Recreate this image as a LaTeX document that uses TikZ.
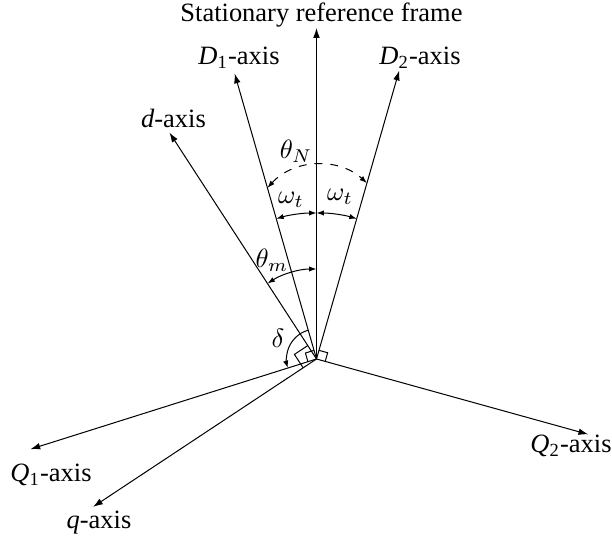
\documentclass[tikz,border=0pt]{standalone}
\usepackage{amsmath}
\usepackage{fontspec}
\setmainfont{Liberation Serif}
\usetikzlibrary{arrows.meta,calc}
\begin{document}
\begin{tikzpicture}[x=0.378pt,y=0.378pt,
  axisline/.style={-{Latex[length=3.7pt,width=2.5pt]}, line width=0.38pt},
  twoarrow/.style={{Latex[length=2.8pt,width=2pt]}-{Latex[length=2.8pt,width=2pt]}, line width=0.38pt},
  onearrow/.style={-{Latex[length=2.8pt,width=2pt]}, line width=0.38pt},
  rightmark/.style={line width=0.38pt},
  lbl/.style={inner sep=0pt, anchor=base},
  mlbl/.style={inner sep=0pt}]
\useasboundingbox (0,0) rectangle (612,537);
% origin and tips
\coordinate (O) at (316.5,178);
\coordinate (S) at (316.5,509);
\coordinate (D1) at ($(O)+(106:297)$);
\coordinate (D2) at ($(O)+(74:300)$);
\coordinate (d) at ($(O)+(123:270)$);
\coordinate (Q1) at ($(O)+(197.5:300)$);
\coordinate (Q2) at ($(O)+(-15.5:282)$);
\coordinate (q) at ($(O)+(213.5:268)$);
% axes
\draw[axisline] (O) -- (S);
\draw[axisline] (O) -- (D1);
\draw[axisline] (O) -- (D2);
\draw[axisline] (O) -- (d);
\draw[axisline] (O) -- (Q1);
\draw[axisline] (O) -- (Q2);
\draw[axisline] (O) -- (q);
% axis labels
\node[lbl] (lS) at (321.5,515.3) {Stationary reference frame};
\node[lbl] (lD1) at (239,472) {\textit{D}$_{\text{1}}$-axis};
\node[lbl] (lD2) at (420,472) {\textit{D}$_{\text{2}}$-axis};
\node[lbl] (ld) at (173.5,409) {\textit{d}-axis};
\node[lbl] (lQ1) at (51,55) {\textit{Q}$_{\text{1}}$-axis};
\node[lbl] (lQ2) at (571,84) {\textit{Q}$_{\text{2}}$-axis};
\node[lbl] (lq) at (99,8) {\textit{q}-axis};
% right angle marks
\draw[rightmark] ($(O)+(74:9)$) -- ++(-15.5:9) -- ($(O)+(-15.5:9)$);
\draw[rightmark] ($(O)+(106:9)$) -- ++(197.5:9) -- ($(O)+(197.5:9)$);
\draw[rightmark] ($(O)+(123:16)$) -- ++(213.5:16) -- ($(O)+(213.5:16)$);
% angle arcs
\coordinate (N1) at ($(O)+(106:178)$);
\coordinate (N2) at ($(O)+(74:183)$);
\draw[twoarrow, dashed] (N1) to[bend left=45] (N2);
\draw[twoarrow] ($(O)+(106:146)$) arc[start angle=106, end angle=90, radius=146];
\draw[twoarrow] ($(O)+(90:146)$) arc[start angle=90, end angle=74, radius=146];
\draw[twoarrow] ($(O)+(123:90)$) arc[start angle=123, end angle=90, radius=90];
\draw[onearrow] ($(O)+(106:30)$) arc[start angle=106, end angle=197.5, radius=30];
% angle labels
\node[mlbl] (tN) at (296,386) {$\theta_N$};
\node[mlbl] (w1) at (291,337) {$\omega_t$};
\node[mlbl] (w2) at (340,340) {$\omega_t$};
\node[mlbl] (tm) at (272,277) {$\theta_m$};
\node[mlbl] (dl) at (278,199) {$\delta$};
\end{tikzpicture}
\end{document}
